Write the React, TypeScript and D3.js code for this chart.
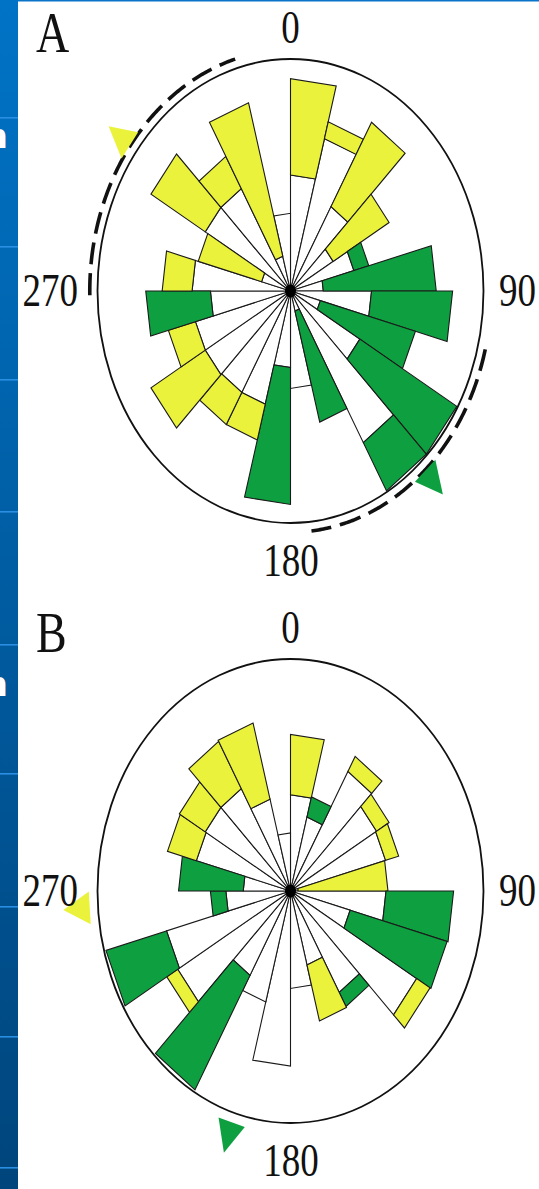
import React from 'react';
import * as d3 from 'd3';

const WIDTH = 539;
const HEIGHT = 1189;

// 15-degree direction bins, clockwise from north
const BIN_START = [0, 15, 30, 45, 60, 75, 90, 105, 120, 135, 150, 165, 180, 195, 210, 225, 240, 255, 270, 285, 300, 315, 330, 345];
const BIN_WIDTH = 15;

// Panel A: inner (white) frequency, cumulative frequency with the coloured class, class of the outer block
const A_BASE = [10.0, 13.6, 8.4, 5.1, 6.8, 3.4, 8.4, 3.2, 8.3, 15.1, 1.8, 8.4, 6.6, 10.1, 10.1, 10.2, 10.2, 8.3, 10.2, 3.1, 10.2, 10.2, 3.1, 6.7];
const A_TOP = [18.3, 15.1, 16.8, 11.8, 8.4, 15.1, 16.8, 13.4, 19.9, 19.9, 11.7, 8.4, 18.4, 13.3, 13.3, 16.7, 13.1, 15.0, 13.3, 9.9, 16.7, 13.4, 16.8, 6.7];
const A_CLASS = ['Y', 'Y', 'Y', 'Y', 'G', 'G', 'G', 'G', 'G', 'G', 'G', '', 'G', 'Y', 'Y', 'Y', 'Y', 'G', 'Y', 'Y', 'Y', 'Y', 'Y', ''];

// Panel B
const B_BASE = [8.3, 6.6, 11.9, 10.3, 10.2, 0.8, 9.9, 6.4, 15.1, 10.1, 6.6, 8.4, 15.1, 9.9, 8.4, 13.5, 13.3, 6.7, 4.9, 10.1, 10.2, 10.2, 8.2, 5.0];
const B_TOP = [13.5, 8.4, 13.4, 11.8, 11.6, 10.1, 16.9, 16.8, 16.7, 11.5, 11.6, 8.4, 15.1, 9.9, 19.8, 14.8, 19.8, 8.3, 11.6, 13.2, 13.3, 14.9, 15.0, 5.0];
const B_CLASS = ['Y', 'G', 'Y', 'Y', 'Y', 'Y', 'G', 'G', 'Y', 'G', 'Y', '', '', '', 'G', 'Y', 'G', 'G', 'G', 'Y', 'Y', 'Y', 'Y', ''];

// Mean directions (degrees) per class
const A_MEAN_DIR = [307, 138];
const A_MEAN_CLASS = ['Y', 'G'];
const B_MEAN_DIR = [266, 197];
const B_MEAN_CLASS = ['Y', 'G'];

// Confidence arcs around the mean directions of panel A
const A_ARC_FROM = [269, 104];
const A_ARC_TO = [344, 174];

const AXIS_LABELS = ['0', '90', '180', '270'];

const COLORS: Record<string, string> = { Y: '#EBF23C', G: '#0EA040' };
const EDGE = '#1a1a1a';

const CX = 290.5;
const R = 193;
const SY = 1.202;

const rScale = d3.scaleLinear().domain([0, 20]).range([0, R]);

type Pt = [number, number];

function makeProject(cy: number) {
  return (deg: number, r: number): Pt => {
    const a = (deg * Math.PI) / 180;
    return [CX + r * Math.sin(a), cy - r * Math.cos(a) * SY];
  };
}

const poly = (pts: Pt[]) => pts.map((p) => p[0].toFixed(2) + ',' + p[1].toFixed(2)).join(' ');

const serif = '"Liberation Serif", "DejaVu Serif", "Times New Roman", serif';

function Label({ x, y, text, size, anchor }: { x: number; y: number; text: string; size: number; anchor: string }) {
  return (
    <text
      transform={`translate(${x},${y}) scale(1,1.25)`}
      textAnchor={anchor as any}
      fontFamily={serif}
      fontSize={size}
      fill="#111"
    >
      {text}
    </text>
  );
}

function RosePanel({
  cy,
  letter,
  base,
  top,
  cls,
  meanDir,
  meanCls,
  arcFrom,
  arcTo,
}: {
  cy: number;
  letter: string;
  base: number[];
  top: number[];
  cls: string[];
  meanDir: number[];
  meanCls: string[];
  arcFrom?: number[];
  arcTo?: number[];
}) {
  const p = makeProject(cy);
  const center: Pt = [CX, cy];

  const whites = BIN_START.map((a0, i) => {
    const a1 = a0 + BIN_WIDTH;
    const w = rScale(base[i]);
    return <polygon key={'w' + i} points={poly([center, p(a0, w), p(a1, w)])} fill="#fff" stroke={EDGE} strokeWidth={1.1} />;
  });

  const blocks = BIN_START.map((a0, i) => {
    if (!cls[i]) return null;
    const a1 = a0 + BIN_WIDTH;
    const w = rScale(base[i]);
    const t = rScale(top[i]);
    return (
      <polygon
        key={'c' + i}
        points={poly([p(a0, w), p(a0, t), p(a1, t), p(a1, w)])}
        fill={COLORS[cls[i]]}
        stroke={EDGE}
        strokeWidth={1.1}
      />
    );
  });

  const arcLine = d3.line<Pt>();
  const arcs = (arcFrom || []).map((from, i) => {
    const to = (arcTo as number[])[i];
    const pts = d3.range(from, to + 0.01, 0.5).map((a) => p(a, rScale(20.8)));
    return (
      <path key={'arc' + i} d={arcLine(pts) || ''} fill="none" stroke="#111" strokeWidth={3.6} strokeDasharray="22 9" />
    );
  });

  const markers = meanDir.map((dir, i) => {
    const b0 = p(dir - 3.9, rScale(20.9));
    const b1 = p(dir + 3.9, rScale(20.9));
    const tip = p(dir, rScale(23.6));
    return <polygon key={'m' + i} points={poly([b0, tip, b1])} fill={COLORS[meanCls[i]]} stroke="none" />;
  });

  return (
    <g>
      {whites}
      {blocks}
      <ellipse cx={CX} cy={cy} rx={5.5} ry={6.5} fill="#000" />
      <ellipse cx={CX} cy={cy} rx={R} ry={R * SY} fill="none" stroke="#111" strokeWidth={1.8} />
      {arcs}
      {markers}
      <Label x={36} y={cy - 239} text={letter} size={46} anchor="start" />
      <Label x={CX} y={cy - 248} text={AXIS_LABELS[0]} size={37} anchor="middle" />
      <Label x={499} y={cy + 15} text={AXIS_LABELS[1]} size={37} anchor="start" />
      <Label x={291} y={cy + 285} text={AXIS_LABELS[2]} size={37} anchor="middle" />
      <Label x={78} y={cy + 15} text={AXIS_LABELS[3]} size={37} anchor="end" />
    </g>
  );
}

const STRIP_RULES = [117, 246, 379, 511, 644, 773, 906, 1036, 1167];

export default function App() {
  return (
    <svg
      width={WIDTH}
      height={HEIGHT}
      viewBox={`0 0 ${WIDTH} ${HEIGHT}`}
      style={{ position: 'absolute', left: 0, top: 0, background: '#fff' }}
    >
      <defs>
        <linearGradient id="strip" x1="0" y1="0" x2="0" y2="1">
          <stop offset="0" stopColor="#0073C6" />
          <stop offset="1" stopColor="#00457C" />
        </linearGradient>
      </defs>
      <rect x={0} y={0} width={WIDTH} height={HEIGHT} fill="#fff" />
      <rect x={0} y={0} width={18} height={HEIGHT} fill="url(#strip)" />
      {STRIP_RULES.map((y) => (
        <rect key={y} x={0} y={y} width={18} height={1.6} fill="#2A8FE2" />
      ))}
      <rect x={18} y={0} width={WIDTH - 18} height={1.5} fill="#0A74C8" />
      <text x={8} y={148} textAnchor="end" fill="#fff" fontWeight="bold" fontSize={34} fontFamily='"DejaVu Sans", "Open Sans", sans-serif'>
        n
      </text>
      <text x={8} y={696} textAnchor="end" fill="#fff" fontWeight="bold" fontSize={34} fontFamily='"DejaVu Sans", "Open Sans", sans-serif'>
        n
      </text>

      <RosePanel
        cy={291}
        letter="A"
        base={A_BASE}
        top={A_TOP}
        cls={A_CLASS}
        meanDir={A_MEAN_DIR}
        meanCls={A_MEAN_CLASS}
        arcFrom={A_ARC_FROM}
        arcTo={A_ARC_TO}
      />
      <RosePanel
        cy={891}
        letter="B"
        base={B_BASE}
        top={B_TOP}
        cls={B_CLASS}
        meanDir={B_MEAN_DIR}
        meanCls={B_MEAN_CLASS}
      />
    </svg>
  );
}
